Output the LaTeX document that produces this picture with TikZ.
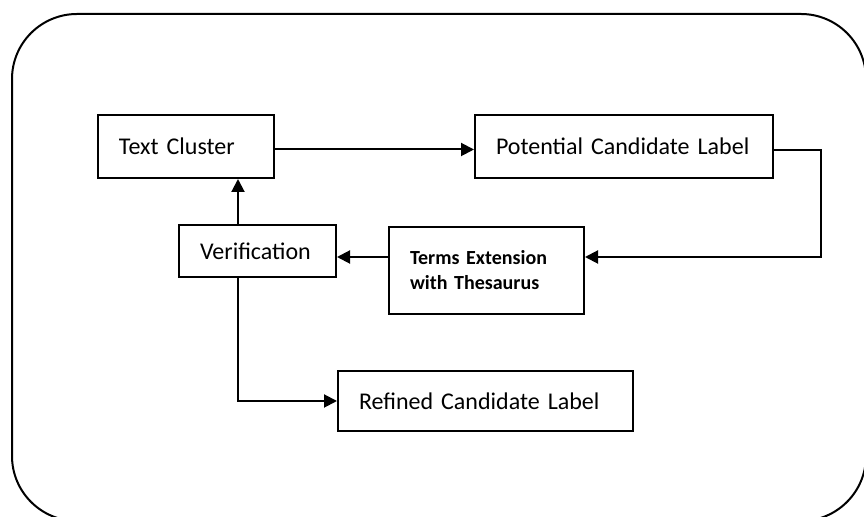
\documentclass[tikz,border=0pt]{standalone}
\usepackage{fontspec}
\setmainfont{Carlito}
\usetikzlibrary{arrows.meta,calc}

\tikzset{
  % coordinates are given in pixels of an 864 x 517 canvas
  x=0.5pt, y=-0.5pt,
  frame/.style={draw=black, line width=1pt, rounded corners=32.5pt},
  stagebox/.style n args={2}{draw=black, line width=1pt, anchor=north west,
    inner xsep=10.5pt, inner ysep=0pt, align=left,
    text width=#1, minimum height=#2,
    font=\fontsize{12pt}{14pt}\selectfont},
  flow/.style={draw=black, line width=1pt,
    -{Triangle[length=6.5pt,width=6.5pt]}}
}

\begin{document}
\begin{tikzpicture}
  \useasboundingbox (0,0) rectangle (864,517);
  \clip (0,0) rectangle (864,517);

  % outer rounded frame, running past the right and bottom edges
  \draw[frame] (12,14) rectangle (866,521);

  % process stages
  \node[stagebox={67pt}{31.5pt}] (tc)  at (97,114)  {Text Cluster};
  \node[stagebox={128pt}{31.5pt}] (pcl) at (474,114) {Potential Candidate Label};
  \node[stagebox={57.5pt}{26pt}] (ver) at (178,224) {Verification};
  \node[stagebox={76.5pt}{43.5pt},
        font=\bfseries\fontsize{10pt}{12.5pt}\selectfont] (tet) at (388,226)
        {Terms Extension\\with Thesaurus\\[4pt]};
  \node[stagebox={126.5pt}{30pt}] (rcl) at (337,370) {Refined Candidate Label};

  % routing helpers
  \coordinate (bend) at (821,150);
  \coordinate (row)  at (0,257);
  \coordinate (col)  at (238,0);

  % connectors
  \draw[flow] ($(tc.east)+(0,3)$) -- ($(tc.east -| pcl.west)+(0,3)$);
  \draw[flow] (pcl.east |- bend) -- (bend) -- (bend |- row) -- (tet.east |- row);
  \draw[flow] (tet.west |- row) -- (ver.east |- row);
  \draw[flow] (ver.north -| col) -- (tc.south -| col);
  \draw[flow] (ver.south -| col) |- (rcl.west);
\end{tikzpicture}
\end{document}
